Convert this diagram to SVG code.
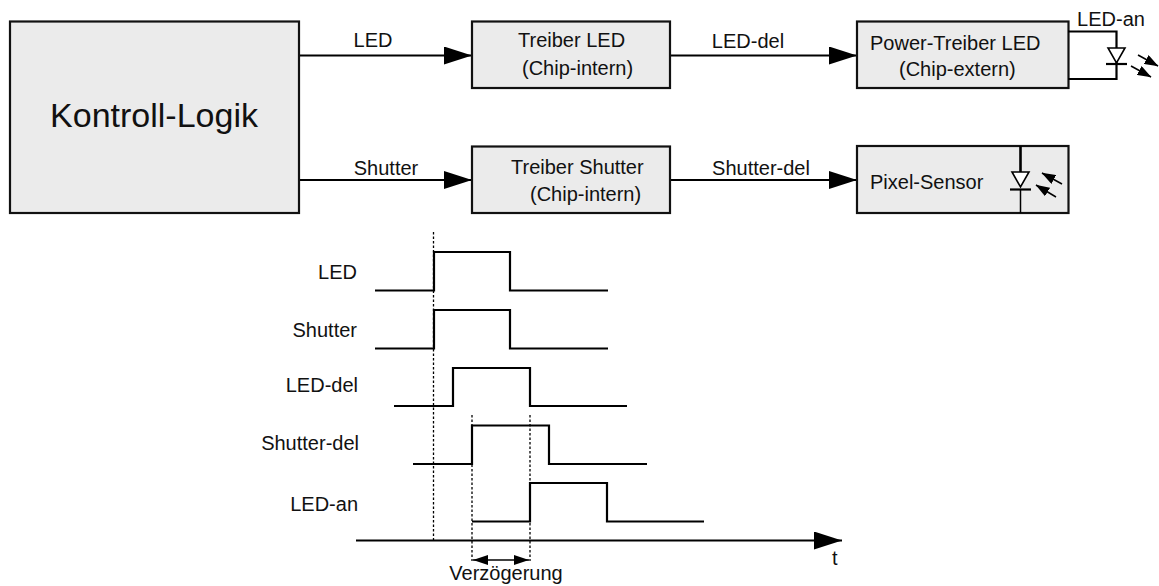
<svg xmlns="http://www.w3.org/2000/svg" width="1159" height="586" viewBox="0 0 1159 586">
<style>
text{font-family:"Liberation Sans",Arial,sans-serif;font-size:20px;fill:#111}
.box{fill:#ebebeb;stroke:#111;stroke-width:2.200}
.w{fill:none;stroke:#000;stroke-width:2.200}
.t{fill:none;stroke:#000;stroke-width:1.500}
.d{fill:none;stroke:#000;stroke-width:1.300;stroke-dasharray:2.500 2}
.m{text-anchor:middle}
</style>
<defs>
<marker id="ah" markerUnits="userSpaceOnUse" markerWidth="28" markerHeight="18" refX="28" refY="9" orient="auto"><path d="M0 0L28 9L0 18Z" fill="#000"/></marker>
<marker id="dh" markerUnits="userSpaceOnUse" markerWidth="16" markerHeight="10" refX="15" refY="5" orient="auto-start-reverse"><path d="M0 0L15 5L0 10Z" fill="#000"/></marker>
<marker id="sh" markerUnits="userSpaceOnUse" markerWidth="14" markerHeight="10" refX="13.500" refY="5" orient="auto"><path d="M0 0L14 5L0 10Z" fill="#000"/></marker>
</defs>
<g id="connectors">
<path class="w" d="M299 55.500H472" marker-end="url(#ah)"/>
<path class="w" d="M299 180H472" marker-end="url(#ah)"/>
<path class="w" d="M670 55.500H857" marker-end="url(#ah)"/>
<path class="w" d="M670 180H857" marker-end="url(#ah)"/>
</g>
<g id="kontroll"><rect class="box" x="10" y="21.500" width="289" height="191.500"/><text class="m" x="154" y="127" style="font-size:34px">Kontroll-Logik</text></g>
<g id="treiber-led"><rect class="box" x="472" y="21.500" width="198" height="66.500"/><text x="518" y="47">Treiber LED</text><text x="522" y="75">(Chip-intern)</text></g>
<g id="treiber-shutter"><rect class="box" x="472" y="146.500" width="198" height="66.500"/><text x="511" y="174">Treiber Shutter</text><text x="530" y="201">(Chip-intern)</text></g>
<g id="power-treiber"><rect class="box" x="857" y="21.500" width="211.500" height="66.500"/><text x="870" y="50">Power-Treiber LED</text><text x="899" y="76">(Chip-extern)</text>
<path class="w" d="M1068 31.500H1116.500V79H1068"/><path d="M1108 48H1125L1116.500 63Z" fill="#fff" stroke="#000" stroke-width="1.600"/><path class="w" d="M1106 64H1127"/><path class="t" d="M1138 55L1158 66" marker-end="url(#sh)"/><path class="t" d="M1131 66L1151 77" marker-end="url(#sh)"/></g>
<g id="pixel-sensor"><rect class="box" x="857" y="146" width="211.500" height="67"/><text x="870" y="189">Pixel-Sensor</text>
<path d="M1020.500 146V172" fill="none" stroke="#000" stroke-width="2.600"/><path class="t" d="M1020.500 190V213"/><path d="M1012 172H1029L1020.500 187Z" fill="#fff" stroke="#000" stroke-width="1.600"/><path class="w" d="M1010 189.500H1031"/><path class="t" d="M1062 184L1042 173" marker-end="url(#sh)"/><path class="t" d="M1056 197L1036 185" marker-end="url(#sh)"/></g>
<g id="top-labels"><text class="m" x="373" y="47">LED</text><text class="m" x="386" y="175">Shutter</text><text class="m" x="748" y="47.500">LED-del</text><text class="m" x="761" y="175">Shutter-del</text><text class="m" x="1111" y="26">LED-an</text></g>
<g id="timing">
<path class="d" d="M433.500 232V540M472 415V561M530 415V561"/>
<path class="w" d="M375 290.500H434V252H510V290.500H608"/>
<path class="w" d="M375 348.500H434V310H510V348.500H608"/>
<path class="w" d="M394 406H453V368H530V406H627"/>
<path class="w" d="M413 464H472V425.500H549V464H647"/>
<path class="w" d="M472 521.500H530V483H607V521.500H704"/>
<path class="w" d="M356 540.500H842" marker-end="url(#ah)"/>
<path class="t" d="M473 560H529" marker-start="url(#dh)" marker-end="url(#dh)"/>
<text x="357" y="279" text-anchor="end">LED</text><text x="357" y="337" text-anchor="end">Shutter</text><text x="358" y="392" text-anchor="end">LED-del</text><text x="359" y="450" text-anchor="end">Shutter-del</text><text x="358" y="511" text-anchor="end">LED-an</text>
<text class="m" x="506" y="580">Verzögerung</text><text x="832" y="565">t</text>
</g>
</svg>
